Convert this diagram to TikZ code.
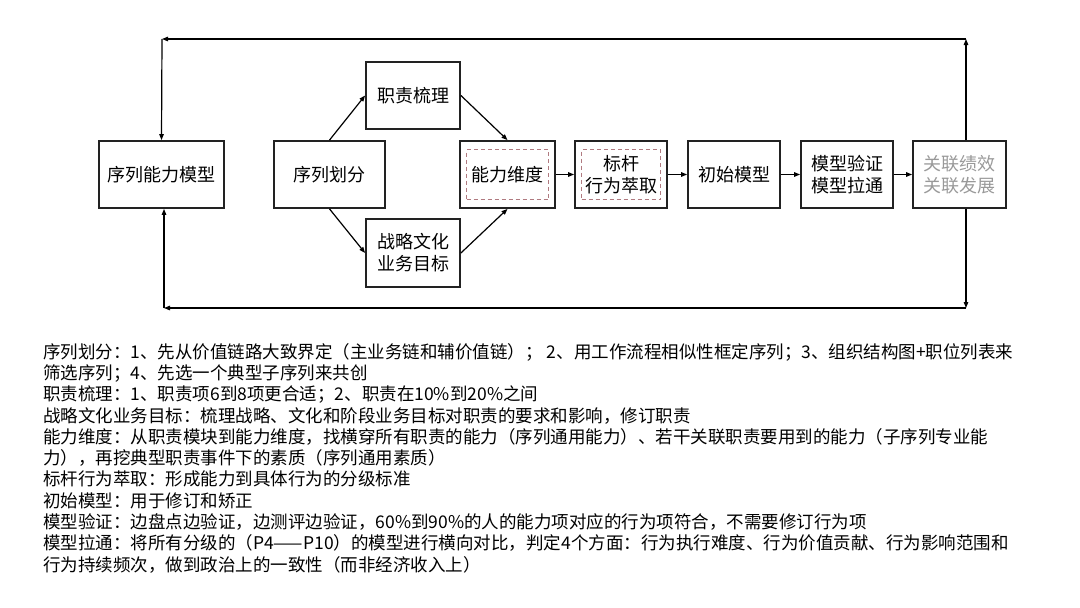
\documentclass[tikz,border=0pt]{standalone}
\usepackage{fontspec}
\setmainfont{Noto Sans CJK SC}
\usetikzlibrary{arrows.meta}
\definecolor{dashred}{HTML}{B07A80}
\definecolor{boxline}{HTML}{222222}

\begin{document}
\begin{tikzpicture}[x=1pt, y=-1pt, >={Triangle[length=6pt,width=4.5pt]},
	box/.style={draw=boxline, line width=1.8pt, minimum height=67pt, inner sep=0pt, align=center, font=\fontsize{18}{22}\selectfont},
	inbox/.style={draw=dashred, line width=1.3pt, dashed, dash pattern=on 4pt off 3pt, minimum width=82pt, minimum height=50pt},
	link/.style={->, line width=1.2pt, draw=black}]
	\useasboundingbox (0,0) rectangle (1080,608);
	\node[box, minimum width=125pt] (seqmodel) at (161.5,174.5) {序列能力模型};
	\node[box, minimum width=111pt] (divide) at (329.5,174.5) {序列划分};
	\node[box, minimum width=94pt] (duty) at (413,95.5) {职责梳理};
	\node[box, minimum width=94pt, minimum height=68pt] (strat) at (413,253) {战略文化\\业务目标};
	\node[box, minimum width=95pt] (dim) at (507.5,174.5) {};
	\node[inbox, minimum width=82pt] (diminner) at (dim.center) {};
	\node[font=\fontsize{18}{22}\selectfont] (dimtext) at (dim.center) {能力维度};
	\node[box, minimum width=92pt] (bench) at (621,174.5) {};
	\node[inbox, minimum width=79pt] (benchinner) at (bench.center) {};
	\node[font=\fontsize{18}{22}\selectfont, align=center] (benchtext) at (bench.center) {标杆\\行为萃取};
	\node[box, minimum width=92pt] (init) at (734,174.5) {初始模型};
	\node[box, minimum width=92pt] (verify) at (847,174.5) {模型验证\\模型拉通};
	\node[box, minimum width=93pt, text=black!40] (relate) at (959.5,174.5) {关联绩效\\关联发展};
	% feedback corners
	\coordinate (tr) at (966,39);
	\coordinate (tl) at (162,39);
	\coordinate (br) at (966,308);
	\coordinate (bl) at (164,308);
	% main flow
	\draw[link] (divide.north) -- (duty.west);
	\draw[link] (divide.south) -- (strat.west);
	\draw[link] (duty.east) -- (dim.north);
	\draw[link] (strat.east) -- (dim.south);
	\draw[link] (dim.east) -- (bench.west);
	\draw[link] (bench.east) -- (init.west);
	\draw[link] (init.east) -- (verify.west);
	\draw[link] (verify.east) -- (relate.west);
	% loops back to the model
	\draw[link] ([xshift=6.5]relate.north) -- (tr);
	\draw[link] (tr) -- (tl);
	\draw[link] (tl) -- (seqmodel.north);
	\draw[link] ([xshift=6.5]relate.south) -- (br);
	\draw[link] (br) -- (bl);
	\draw[link] (bl) -- ([xshift=2.5]seqmodel.south);
	\node[anchor=north west, align=left, inner sep=0pt, font=\fontsize{17.5}{21.3}\selectfont] (notes) at (43,343) {序列划分：1、先从价值链路大致界定（主业务链和辅价值链）； 2、用工作流程相似性框定序列；3、组织结构图+职位列表来\\
筛选序列；4、先选一个典型子序列来共创\\
职责梳理：1、职责项6到8项更合适；2、职责在10\%到20\%之间\\
战略文化业务目标：梳理战略、文化和阶段业务目标对职责的要求和影响，修订职责\\
能力维度：从职责模块到能力维度，找横穿所有职责的能力（序列通用能力）、若干关联职责要用到的能力（子序列专业能\\
力），再挖典型职责事件下的素质（序列通用素质）\\
标杆行为萃取：形成能力到具体行为的分级标准\\
初始模型：用于修订和矫正\\
模型验证：边盘点边验证，边测评边验证，60\%到90\%的人的能力项对应的行为项符合，不需要修订行为项\\
模型拉通：将所有分级的（P4——P10）的模型进行横向对比，判定4个方面：行为执行难度、行为价值贡献、行为影响范围和\\
行为持续频次，做到政治上的一致性（而非经济收入上）};
\end{tikzpicture}
\end{document}
